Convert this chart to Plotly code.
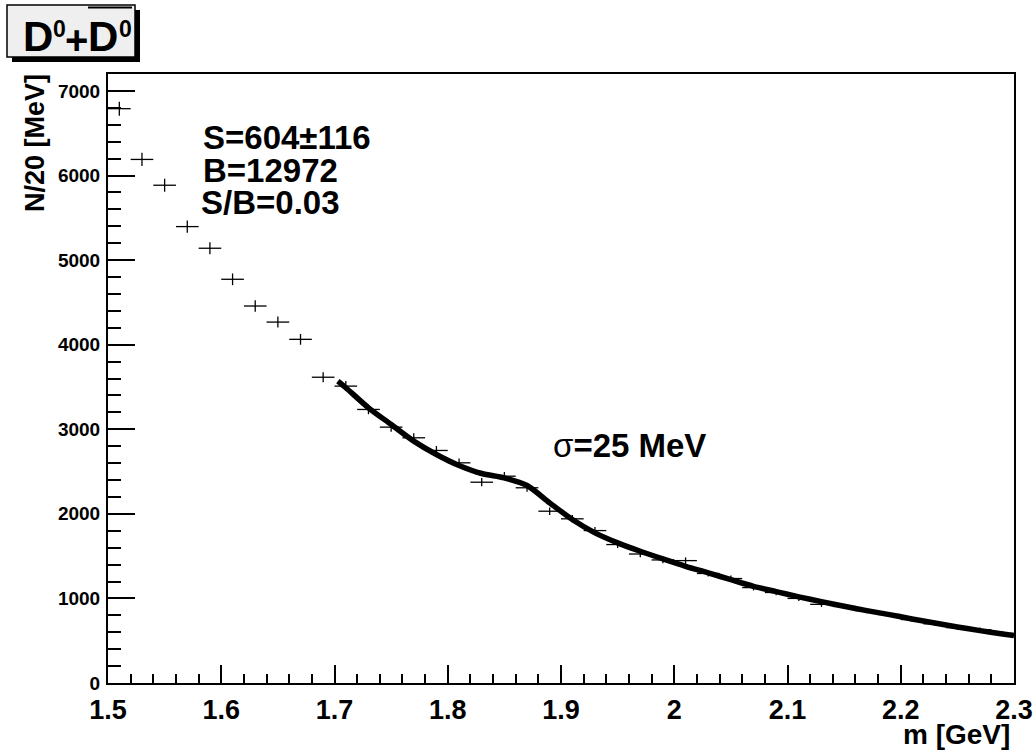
import numpy as np
import plotly.graph_objects as go

# ---- data ----
bin_centers = [1.51, 1.53, 1.55, 1.57, 1.59, 1.61, 1.63, 1.65, 1.67, 1.69,
               1.71, 1.73, 1.75, 1.77, 1.79, 1.81, 1.83, 1.85, 1.87, 1.89,
               1.91, 1.93, 1.95, 1.97, 1.99, 2.01, 2.03, 2.05, 2.07, 2.09,
               2.11, 2.13, 2.15, 2.17, 2.19, 2.21, 2.23, 2.25, 2.27, 2.29]
counts = [6790, 6190, 5885, 5396, 5140, 4773, 4457, 4267, 4063, 3615,
          3510, 3234, 3025, 2899, 2749, 2603, 2374, 2445, 2308, 2031,
          1941, 1802, 1637, 1525, 1455, 1447, 1295, 1235, 1128, 1070,
          1000, 930, 905, 855, 810, 750, 700, 655, 630, 585]
bin_half_width = [0.01] * len(bin_centers)

fit_x = [1.703, 1.71, 1.73, 1.75, 1.77, 1.79, 1.81, 1.83, 1.85, 1.87, 1.89,
         1.91, 1.93, 1.95, 1.97, 1.99, 2.01, 2.03, 2.05, 2.07, 2.09, 2.11,
         2.13, 2.15, 2.17, 2.19, 2.21, 2.23, 2.25, 2.27, 2.29, 2.30]
fit_y = [3569, 3491, 3254, 3057, 2860, 2702, 2572, 2477, 2426, 2335, 2130,
         1933, 1775, 1657, 1558, 1467, 1380, 1302, 1222, 1143, 1080, 1018,
         962, 907, 856, 808, 757, 710, 663, 619, 580, 560]

x_tickvals = [1.5, 1.6, 1.7, 1.8, 1.9, 2.0, 2.1, 2.2, 2.3]
x_ticktext = ["1.5", "1.6", "1.7", "1.8", "1.9", "2", "2.1", "2.2", "2.3"]
y_tickvals = [0, 1000, 2000, 3000, 4000, 5000, 6000, 7000]
y_ticktext = ["0", "1000", "2000", "3000", "4000", "5000", "6000", "7000"]

# title "D0 + anti-D0" pieces: (text, centre x px, centre y px, font size)
title_parts = [("<b>D</b>", 38, 37, 42), ("<b>0</b>", 59, 29, 23),
               ("<b>+</b>", 76, 40, 40), ("<b>D</b>", 103, 37, 42),
               ("<b>0</b>", 125.5, 29, 23)]
stats_lines = ["<b>S=604±116</b>", "<b>B=12972</b>", "<b>S/B=0.03</b>"]
sigma_text = "σ<b>=25 MeV</b>"
x_title = "<b>m [GeV]</b>"
y_title = "<b>N/20 [MeV]</b>"

# ---- layout geometry (pixels) ----
W, H = 1036, 751
X0, X1 = 108, 1014           # plot area left/right
Y0, Y1 = 74, 683             # plot area top/bottom
L, T, R, B = X0, Y0, W - X1, H - Y1
PW, PH = X1 - X0, Y1 - Y0


def px(x):
    return (x - X0) / PW


def py(y):
    return (Y1 - y) / PH


FONT = "Liberation Sans, Arial, Helvetica, sans-serif"

fig = go.Figure()

fig.add_trace(go.Scatter(
    x=bin_centers, y=counts, mode="markers",
    marker=dict(size=1, color="rgba(0,0,0,0)"),
    error_x=dict(type="data", array=bin_half_width, color="black",
                 thickness=1.3, width=0),
    error_y=dict(type="data", array=list(np.sqrt(counts)), color="black",
                 thickness=1.3, width=0),
    showlegend=False, hoverinfo="skip",
))

fig.add_trace(go.Scatter(
    x=fit_x, y=fit_y, mode="lines",
    line=dict(color="black", width=5.5, shape="spline", smoothing=0.8),
    showlegend=False, hoverinfo="skip",
))

fig.update_layout(
    width=W, height=H, autosize=False,
    margin=dict(l=L, r=R, t=T, b=B, pad=0),
    paper_bgcolor="white", plot_bgcolor="white",
    font=dict(family=FONT, color="black"),
    xaxis=dict(
        range=[1.5, 2.3], showgrid=False, zeroline=False,
        showline=True, mirror=True, linecolor="black", linewidth=2,
        ticks="inside", ticklen=18, tickwidth=1.5, tickcolor="black",
        tickvals=x_tickvals, ticktext=x_ticktext,
        tickfont=dict(size=27, family=FONT, weight="bold"),
        ticklabelstandoff=2, automargin=False,
        minor=dict(ticks="inside", ticklen=9, tickwidth=1.5,
                   tickcolor="black", dtick=0.02, showgrid=False),
    ),
    yaxis=dict(
        range=[0, 7200], showgrid=False, zeroline=False,
        showline=True, mirror=True, linecolor="black", linewidth=2,
        ticks="inside", ticklen=27, tickwidth=1.5, tickcolor="black",
        tickvals=y_tickvals, ticktext=y_ticktext,
        tickfont=dict(size=19, family=FONT, weight="bold"),
        ticklabelstandoff=2, automargin=False,
        minor=dict(ticks="inside", ticklen=13, tickwidth=1.5,
                   tickcolor="black", dtick=200, showgrid=False),
    ),
)

shapes = [
    # title box shadow
    dict(type="rect", xref="paper", yref="paper",
         x0=px(12), x1=px(140), y0=py(62), y1=py(10),
         fillcolor="black", line=dict(width=0), layer="above"),
    # title box
    dict(type="rect", xref="paper", yref="paper",
         x0=px(7), x1=px(135), y0=py(57), y1=py(5),
         fillcolor="#efefef", line=dict(color="black", width=1.5),
         layer="above"),
    # overline of anti-D
    dict(type="line", xref="paper", yref="paper",
         x0=px(88), x1=px(132), y0=py(7.5), y1=py(7.5),
         line=dict(color="black", width=2), layer="above"),
]
fig.update_layout(shapes=shapes)

ann = [
    dict(text=x_title, xref="paper", yref="paper", x=px(1012), y=py(735),
         xanchor="right", yanchor="middle", showarrow=False,
         font=dict(size=28, family=FONT)),
    dict(text=y_title, xref="paper", yref="paper", x=px(35), y=py(72),
         xanchor="center", yanchor="top", textangle=-90, showarrow=False,
         font=dict(size=27, family=FONT)),
    dict(text=sigma_text, xref="paper", yref="paper", x=px(551), y=py(446),
         xanchor="left", yanchor="middle", showarrow=False,
         font=dict(size=33, family=FONT)),
]
for t, xc, yc, fs in title_parts:
    ann.append(dict(text=t, xref="paper", yref="paper", x=px(xc), y=py(yc),
                    xanchor="center", yanchor="middle", showarrow=False,
                    font=dict(size=fs, family=FONT)))
for t, yc, xl in zip(stats_lines, [137, 170, 202], [201, 201, 199]):
    ann.append(dict(text=t, xref="paper", yref="paper", x=px(xl), y=py(yc),
                    xanchor="left", yanchor="middle", showarrow=False,
                    font=dict(size=33, family=FONT)))
fig.update_layout(annotations=ann)

fig.write_html(
    "out.html",
    config={"responsive": False, "displayModeBar": False},
    post_script="document.body.style.margin='0';"
                "document.body.style.overflow='hidden';"
                "document.documentElement.style.overflow='hidden';",
)
